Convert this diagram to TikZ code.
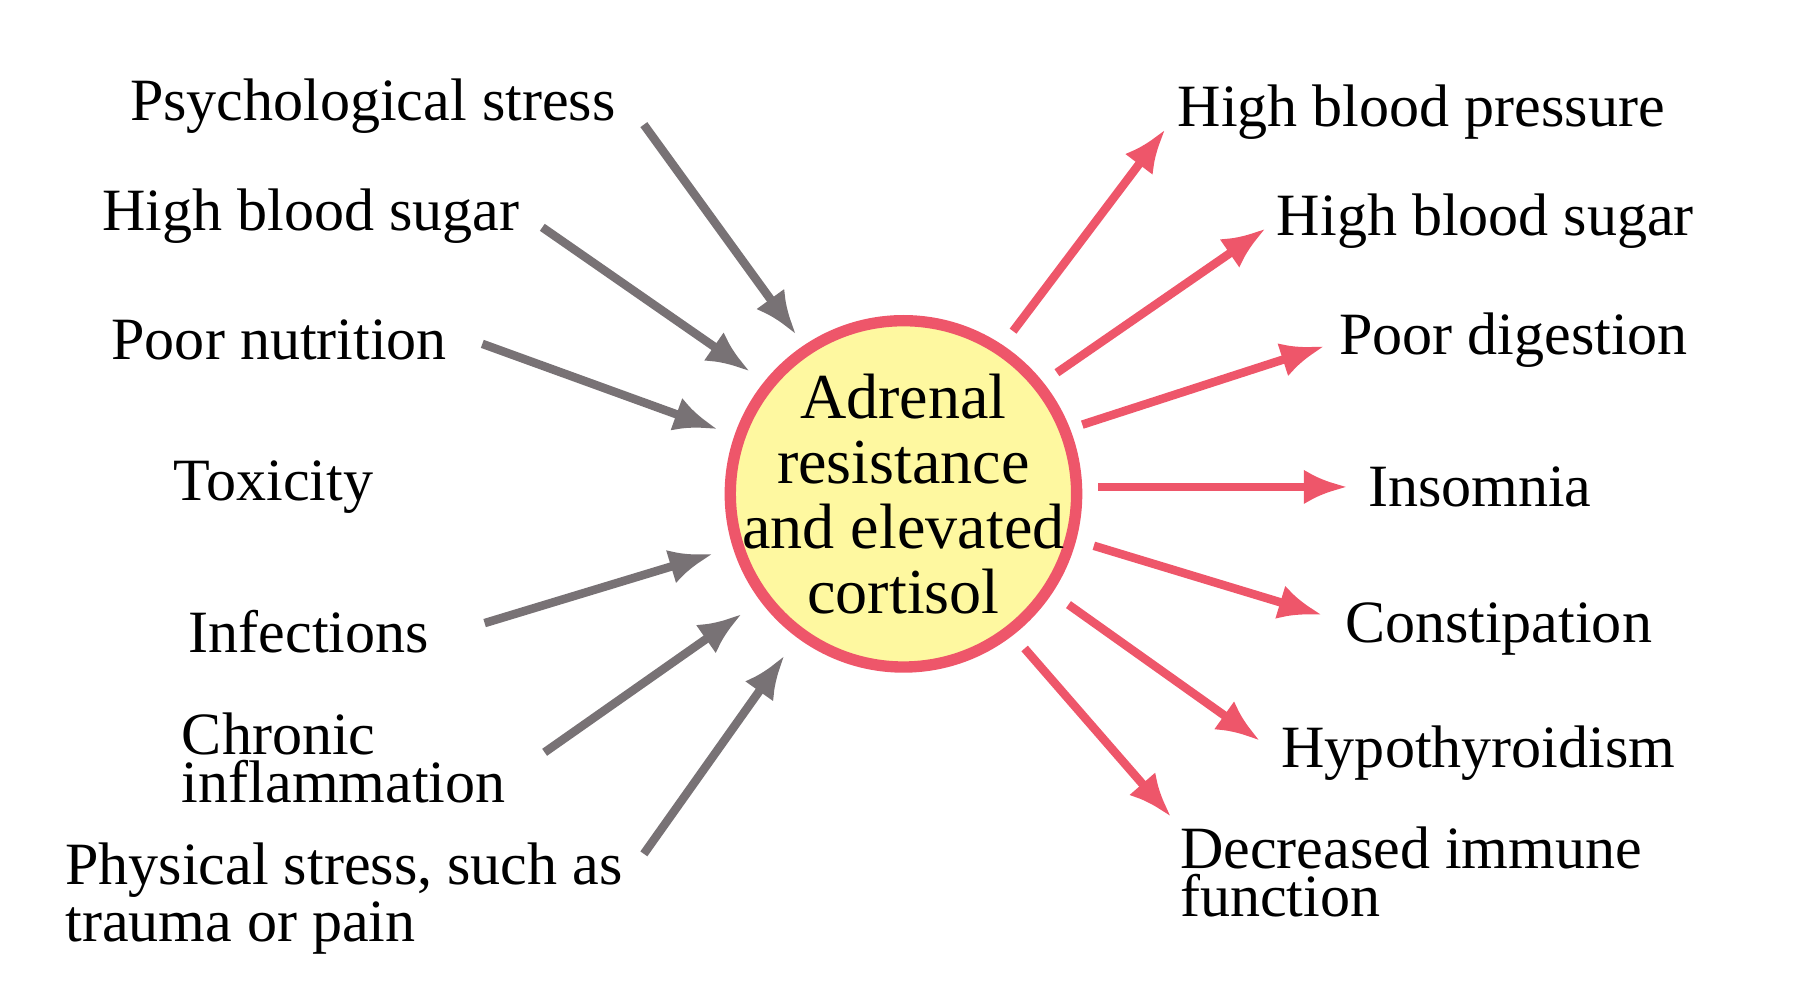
\documentclass[tikz,border=0pt]{standalone}
\usepackage{fontspec}
\setmainfont{Liberation Serif}
\usetikzlibrary{arrows.meta}
\definecolor{cause}{RGB}{120,114,117}
\definecolor{effect}{RGB}{238,86,106}
\definecolor{core}{RGB}{254,248,160}
\tikzset{
	label/.style={inner sep=0pt, align=left, font=\fontsize{14.8}{11.8}\selectfont},
	causearrow/.style={draw=cause, line width=2.1pt, -{Latex[length=0.38cm, width=0.3cm]}},
	effectarrow/.style={draw=effect, line width=2.1pt, -{Latex[length=0.38cm, width=0.3cm]}}
}
\begin{document}
\begin{tikzpicture}[x=0.01cm, y=-0.01cm]
	\useasboundingbox (0,0) rectangle (1560,872);
	\node[circle, draw=effect, line width=2.8pt, fill=core, minimum size=3.0cm, align=center,
		font=\fontsize{15.8}{16}\selectfont, inner sep=-0.32cm] (adrenal) at (783,428)
		{Adrenal\\resistance\\and elevated\\cortisol};
	% causes
	\node[label, anchor=west] (psych) at (112,92) {Psychological stress};
	\node[label, anchor=west] (sugarin) at (88,187) {High blood sugar};
	\node[label, anchor=west] (nutrition) at (96,295) {Poor nutrition};
	\node[label, anchor=west] (toxicity) at (150,422) {Toxicity};
	\node[label, anchor=west] (infections) at (163,547) {Infections};
	\node[label, anchor=west] (inflammation) at (157,657) {Chronic\\inflammation};
	\node[label, anchor=west] (physical) at (56,779) {Physical stress, such as\\trauma or pain};
	% effects
	\node[label, anchor=west] (pressure) at (1020,97) {High blood pressure};
	\node[label, anchor=west] (sugarout) at (1106,192) {High blood sugar};
	\node[label, anchor=west] (digestion) at (1160,295) {Poor digestion};
	\node[label, anchor=west] (insomnia) at (1185,422) {Insomnia};
	\node[label, anchor=west] (constipation) at (1165,545) {Constipation};
	\node[label, anchor=west] (thyroid) at (1110,653) {Hypothyroidism};
	\node[label, anchor=west] (immune) at (1022,756) {Decreased immune\\function};
	% arrow ends
	\coordinate (c1a) at (558,108); \coordinate (c1b) at (690,290);
	\coordinate (c2a) at (470,197); \coordinate (c2b) at (650,322);
	\coordinate (c3a) at (418,298); \coordinate (c3b) at (622,372);
	\coordinate (c5a) at (420,540); \coordinate (c5b) at (618,480);
	\coordinate (c6a) at (472,652); \coordinate (c6b) at (643,532);
	\coordinate (c7a) at (558,740); \coordinate (c7b) at (680,568);
	\coordinate (e1a) at (878,287); \coordinate (e1b) at (1010,112);
	\coordinate (e2a) at (916,323); \coordinate (e2b) at (1097,198);
	\coordinate (e3a) at (938,368); \coordinate (e3b) at (1148,300);
	\coordinate (e4a) at (952,422); \coordinate (e4b) at (1168,422);
	\coordinate (e5a) at (948,473); \coordinate (e5b) at (1146,533);
	\coordinate (e6a) at (926,524); \coordinate (e6b) at (1092,642);
	\coordinate (e7a) at (888,562); \coordinate (e7b) at (1015,708);
	\foreach \n in {1,2,3,5,6,7}
		\draw[causearrow] (c\n a) -- (c\n b);
	\foreach \n in {1,...,7}
		\draw[effectarrow] (e\n a) -- (e\n b);
\end{tikzpicture}
\end{document}
